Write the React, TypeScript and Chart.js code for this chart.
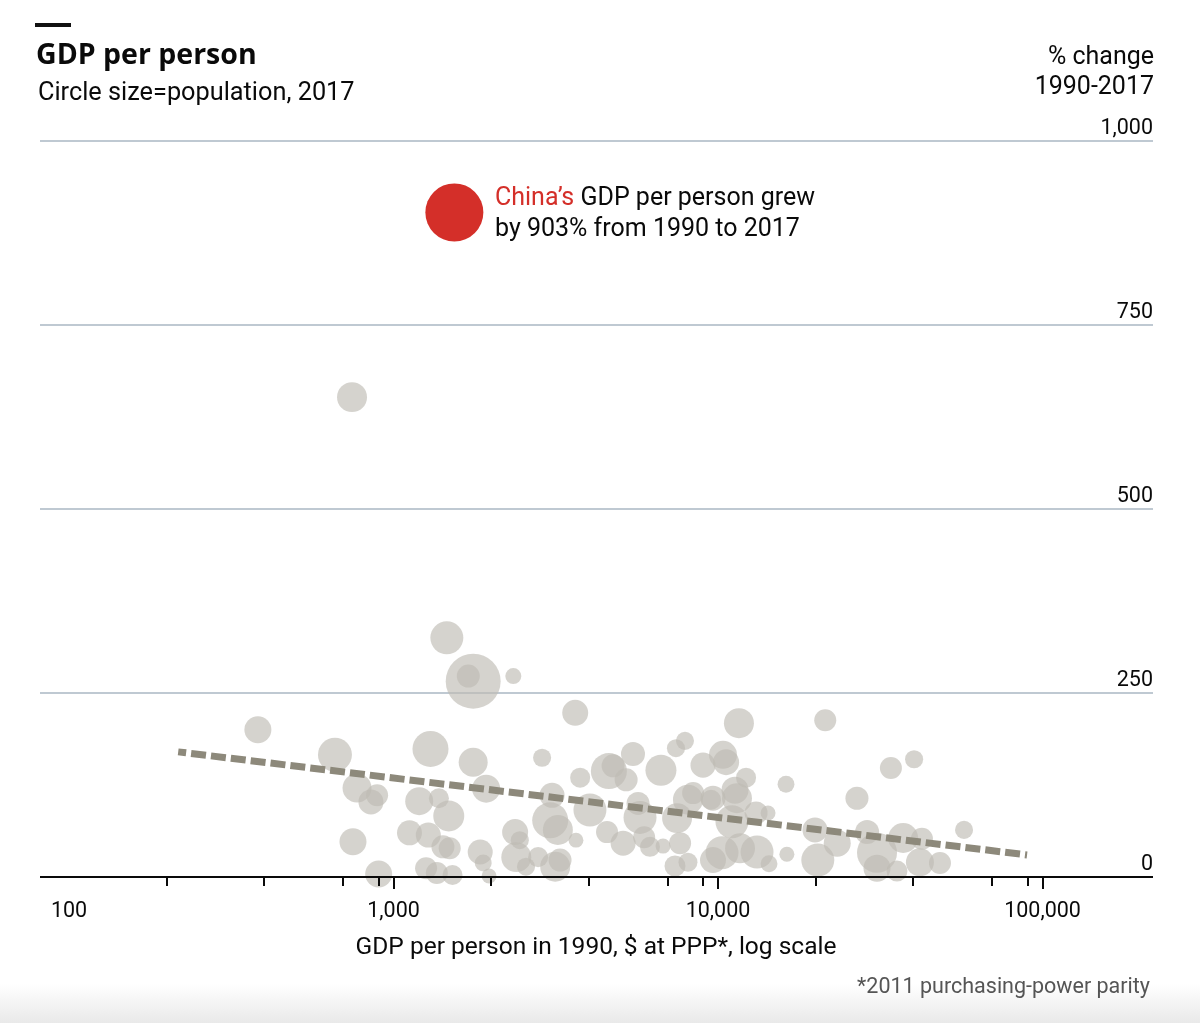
import React, { useEffect, useRef } from 'react';
import { Chart, registerables } from 'chart.js';

Chart.register(...registerables);

// GDP per person in 1990 ($ at 2011 PPP), % change 1990-2017, population 2017 (millions)
const gdp1990 = [
  745, 1460, 1760, 1700, 2340, 382, 3630, 11600, 21400, 660,
  1300, 1760, 2870, 4610, 4750, 5470, 5210, 6670, 3760, 7910,
  7420, 8990, 10360, 10590, 12200, 16200, 34100, 40200, 1930, 772,
  852, 890, 1200, 1380, 1480, 1120, 1280, 1420, 1490, 750,
  1850, 1890, 1970, 900, 1260, 1360, 1520, 3080, 4030, 3040,
  3210, 3650, 2370, 2450, 4550, 5100, 5670, 5750, 5920, 6170,
  6770, 7480, 8080, 8380, 9650, 7640, 7370, 8080, 2390, 2560,
  2790, 3150, 3260, 10290, 9650, 11690, 13190, 14260, 13100, 14360,
  16300, 11280, 11440, 11040, 9520, 26800, 57300, 19900, 20300, 23300,
  28800, 30900, 37200, 42500, 30900, 35600, 41900, 48300,
];
const pctChange = [
  652, 325, 266, 273, 273, 200, 223, 209, 213, 166,
  174, 156, 162, 144, 151, 167, 132, 145, 135, 185,
  175, 152, 166, 156, 135, 126, 148, 160, 120, 121,
  102, 111, 103, 107, 83, 60, 57, 41, 39, 48,
  34, 19, 1.4, 4, 12, 5.4, 2.7, 111, 91, 77,
  64, 50, 61, 50, 61, 46, 100, 81, 54, 41,
  42, 80, 105, 114, 107, 46, 15, 20, 27, 14,
  27, 14, 23, 33, 23, 39, 34, 87, 87, 18,
  31, 118, 107, 75, 105, 107, 64, 64, 23, 46,
  61, 33, 53, 52, 12, 8, 20, 19,
];
const popMillions = [
  183, 258, 1200, 58, 3, 121, 103, 183, 46, 286,
  347, 161, 12, 347, 58, 72, 58, 207, 26, 12,
  12, 87, 140, 103, 26, 6, 46, 12, 140, 161,
  87, 46, 140, 26, 207, 87, 87, 58, 46, 121,
  87, 6, 0.5, 121, 46, 46, 26, 87, 258, 347,
  183, 0.5, 103, 12, 46, 87, 58, 258, 46, 26,
  0.7, 183, 183, 46, 87, 46, 35, 18, 183, 12,
  26, 183, 58, 258, 103, 183, 258, 0.7, 58, 6,
  0.7, 121, 183, 258, 26, 58, 12, 87, 258, 121,
  72, 484, 183, 46, 121, 35, 140, 46,
];

const chinaGdp1990 = [1540];
const chinaPct = [903];
const chinaPop = [1386];

const trendGdp = [217, 89600];
const trendPct = [170, 30];

const xTickValues = [200, 400, 700, 900, 1000, 2000, 4000, 7000, 9000, 10000, 20000, 40000, 70000, 90000, 100000];
const xMajorValues = [1000, 10000, 100000];
const xLabelValues = [100, 1000, 10000, 100000];
const xLabels = ['100', '1,000', '10,000', '100,000'];
const yTickValues = [0, 250, 500, 750, 1000];
const yLabels = ['0', '250', '500', '750', '1,000'];

const radiusFor = (pop: number) => 7 + 22 * Math.sqrt(pop / 1386);

const econPlugin = {
  id: 'econAxes',
  beforeDatasetsDraw(chart: any) {
    const { ctx, chartArea, scales } = chart;
    ctx.save();
    ctx.strokeStyle = '#bfc9d2';
    ctx.lineWidth = 2;
    yTickValues.forEach((v) => {
      if (v === 0) return;
      const y = Math.round(scales.y.getPixelForValue(v));
      ctx.beginPath();
      ctx.moveTo(chartArea.left, y);
      ctx.lineTo(chartArea.right, y);
      ctx.stroke();
    });
    ctx.restore();
  },
  afterDatasetsDraw(chart: any) {
    const { ctx, chartArea, scales } = chart;
    const y0 = Math.round(scales.y.getPixelForValue(0));
    ctx.save();
    ctx.strokeStyle = '#0a0a0a';
    ctx.lineWidth = 2;
    ctx.beginPath();
    ctx.moveTo(chartArea.left, y0);
    ctx.lineTo(chartArea.right, y0);
    ctx.stroke();
    xTickValues.forEach((v) => {
      const x = Math.round(scales.x.getPixelForValue(v));
      const len = xMajorValues.includes(v) ? 12 : 9;
      ctx.beginPath();
      ctx.moveTo(x, y0);
      ctx.lineTo(x, y0 + len);
      ctx.stroke();
    });
    ctx.fillStyle = '#0a0a0a';
    ctx.font = '21.5px Roboto, sans-serif';
    ctx.textAlign = 'center';
    ctx.textBaseline = 'alphabetic';
    xLabelValues.forEach((v, i) => {
      const x = scales.x.getPixelForValue(v);
      ctx.fillText(xLabels[i], x, 917);
    });
    ctx.textAlign = 'right';
    yTickValues.forEach((v, i) => {
      const y = scales.y.getPixelForValue(v);
      ctx.fillText(yLabels[i], chartArea.right, y - 7.5);
    });
    ctx.restore();
  },
};

function Txt(props: { children: React.ReactNode; style: React.CSSProperties }) {
  return (
    <div
      style={{
        position: 'absolute',
        whiteSpace: 'nowrap',
        lineHeight: 1,
        fontFamily: 'Roboto, sans-serif',
        color: '#0a0a0a',
        ...props.style,
      }}
    >
      {props.children}
    </div>
  );
}

export default function App() {
  const canvasRef = useRef<HTMLCanvasElement | null>(null);

  useEffect(() => {
    if (!canvasRef.current) return;
    const bubbles = gdp1990.map((g, i) => ({ x: g, y: pctChange[i], r: radiusFor(popMillions[i]) }));
    const china = chinaGdp1990.map((g, i) => ({ x: g, y: chinaPct[i], r: radiusFor(chinaPop[i]) }));
    const trend = trendGdp.map((g, i) => ({ x: g, y: trendPct[i] }));

    const chart = new Chart(canvasRef.current, {
      type: 'bubble',
      data: {
        datasets: [
          {
            type: 'line',
            data: trend,
            borderColor: '#8d897b',
            borderWidth: 7,
            borderDash: [15, 5],
            borderDashOffset: 7,
            borderCapStyle: 'butt',
            pointRadius: 0,
            fill: false,
            order: 0,
            clip: false,
          } as any,
          {
            type: 'bubble',
            data: bubbles,
            backgroundColor: 'rgba(190,187,180,0.65)',
            borderWidth: 0,
            order: 1,
            clip: false,
          } as any,
          {
            type: 'bubble',
            data: china,
            backgroundColor: '#d42f29',
            borderWidth: 0,
            order: 2,
            clip: false,
          } as any,
        ],
      },
      options: {
        responsive: false,
        animation: false,
        devicePixelRatio: 1,
        events: [],
        layout: { padding: { left: 40, right: 47, top: 141, bottom: 146 } },
        scales: {
          x: { type: 'logarithmic', min: 81.4, max: 219000, display: false },
          y: { type: 'linear', min: 0, max: 1000, display: false },
        },
        plugins: {
          legend: { display: false },
          tooltip: { enabled: false },
          title: { display: false },
        },
      } as any,
      plugins: [econPlugin],
    });
    return () => chart.destroy();
  }, []);

  return (
    <div
      style={{
        position: 'absolute',
        left: 0,
        top: 0,
        width: 1200,
        height: 1023,
        background: '#fff',
        overflow: 'hidden',
      }}
    >
      <div
        style={{
          position: 'absolute',
          left: 0,
          top: 984,
          width: 1200,
          height: 39,
          background: 'linear-gradient(#ffffff, #e9e9e9)',
        }}
      />
      <canvas ref={canvasRef} width={1200} height={1023} style={{ position: 'absolute', left: 0, top: 0 }} />
      <div style={{ position: 'absolute', left: 35, top: 23, width: 36, height: 4, background: '#111' }} />
      <Txt style={{ left: 36, top: 38.5, fontFamily: '"Open Sans", sans-serif', fontWeight: 700, fontSize: 28.5 }}>
        GDP per person
      </Txt>
      <Txt style={{ left: 38, top: 79, fontSize: 25.3 }}>Circle size=population, 2017</Txt>
      <Txt style={{ right: 46, top: 42.5, fontSize: 25, textAlign: 'right' }}>% change</Txt>
      <Txt style={{ right: 46, top: 73, fontSize: 25, textAlign: 'right' }}>1990-2017</Txt>
      <Txt style={{ left: 495, top: 184, fontSize: 25 }}>
        <span style={{ color: '#d42f29' }}>China’s</span> GDP per person grew
      </Txt>
      <Txt style={{ left: 495, top: 215, fontSize: 25 }}>by 903% from 1990 to 2017</Txt>
      <Txt style={{ left: 96, width: 1000, top: 934, fontSize: 24.5, textAlign: 'center' }}>
        GDP per person in 1990, $ at PPP*, log scale
      </Txt>
      <Txt style={{ right: 50, top: 975, fontSize: 21.5, color: '#555', textAlign: 'right' }}>
        *2011 purchasing-power parity
      </Txt>
    </div>
  );
}
